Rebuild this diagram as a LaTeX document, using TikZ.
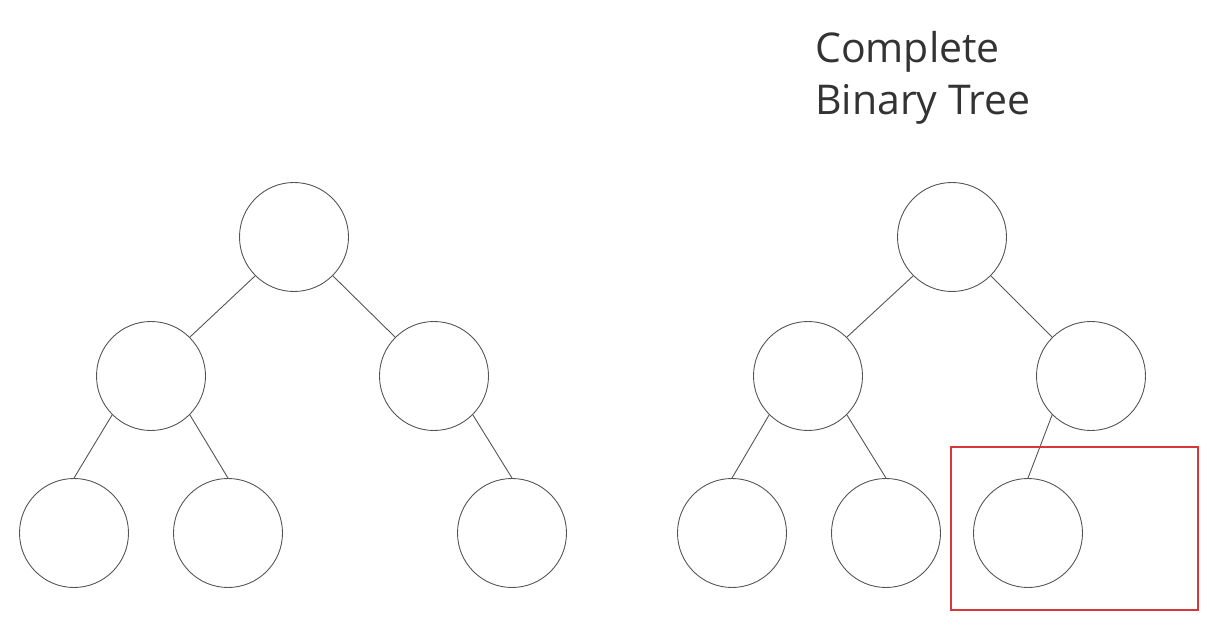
\documentclass[tikz,border=0pt]{standalone}
\usepackage{fontspec}
\setmainfont{Open Sans}
\usepackage{tikz}

\definecolor{treeline}{RGB}{85,85,85}
\definecolor{boxred}{RGB}{214,56,58}
\definecolor{titlegray}{RGB}{51,51,51}

\tikzset{
    vertex/.style={circle, draw=treeline, line width=0.9pt, minimum size=109pt, inner sep=0pt},
    branch/.style={draw=treeline, line width=0.9pt},
}

\begin{document}
\begin{tikzpicture}[x=1pt, y=-1pt]
        \useasboundingbox (0, 0) rectangle (1211, 644);
        % full binary tree on the left
        \node[vertex] (a1) at (294, 237) {};
        \node[vertex] (a2) at (151, 376) {};
        \node[vertex] (a3) at (434, 376) {};
        \node[vertex] (a4) at (74, 533) {};
        \node[vertex] (a5) at (228, 533) {};
        \node[vertex] (a7) at (512, 533) {};
        \draw[branch] (a1.south west) -- (a2.north east);
        \draw[branch] (a1.south east) -- (a3.north west);
        \draw[branch] (a2.south west) -- (a4.north);
        \draw[branch] (a2.south east) -- (a5.north);
        \draw[branch] (a3.south east) -- (a7.north);
        % complete binary tree on the right
        \node[vertex] (b1) at (952, 237) {};
        \node[vertex] (b2) at (808, 376) {};
        \node[vertex] (b3) at (1091, 376) {};
        \node[vertex] (b4) at (732, 533) {};
        \node[vertex] (b5) at (886, 533) {};
        \node[vertex] (b6) at (1028, 533) {};
        \draw[branch] (b1.south west) -- (b2.north east);
        \draw[branch] (b1.south east) -- (b3.north west);
        \draw[branch] (b2.south west) -- (b4.north);
        \draw[branch] (b2.south east) -- (b5.north);
        \draw[branch] (b3.south west) -- (b6.north);
        \node[draw=boxred, line width=1.6pt, minimum width=247pt, minimum height=163pt, inner sep=0pt] (last) at (1074.5, 528.5) {};
        \node[anchor=north west, align=left, inner sep=0pt, text=titlegray,
              font=\fontsize{41}{52}\selectfont] (title) at (815, 31) {Complete\\Binary Tree};
    \end{tikzpicture}
\end{document}
